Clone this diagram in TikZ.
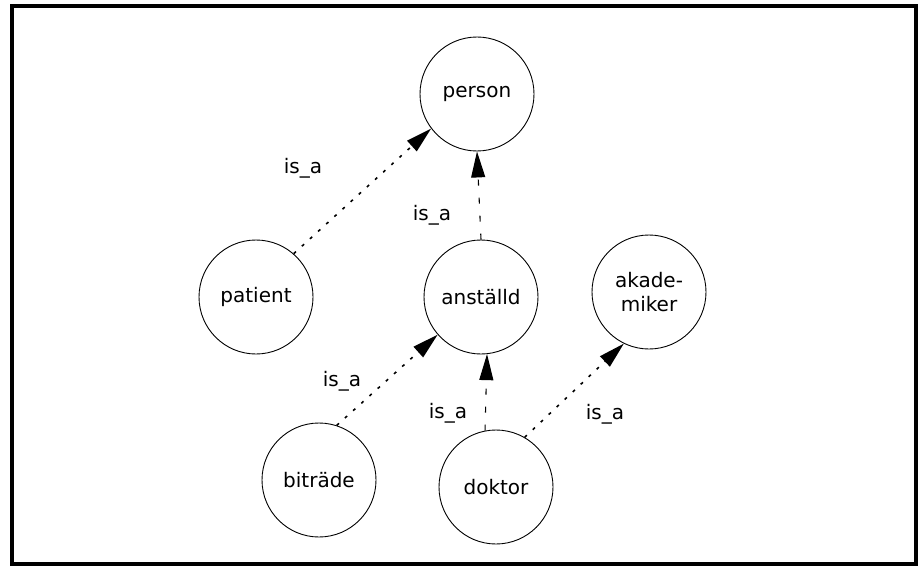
\documentclass[tikz,border=0pt]{standalone}
\usepackage{fontspec}
\setmainfont{DejaVu Sans}
\usepackage{tikz}
\usetikzlibrary{arrows.meta}

\tikzset{
  klass/.style={draw, circle, minimum size=114pt, inner sep=0pt, line width=0.9pt,
    font=\fontsize{20}{24}\selectfont, align=center},
  isa/.style={line width=1.6pt, dash pattern=on 3pt off 8pt,
    -{Triangle[length=26pt,width=14pt]}},
  isaline/.style={line width=1.1pt, dash pattern=on 6pt off 12pt,
    -{Triangle[length=26pt,width=14pt]}},
  rel/.style={font=\fontsize{20}{24}\selectfont}
}

\begin{document}
\begin{tikzpicture}[x=1pt,y=-1pt]
\useasboundingbox (0,0) rectangle (920,567);
\draw[line width=4pt] (12,6) rectangle (916,564);

\node[klass] (person) at (477,94) {person};
\node[klass] (patient) at (256,297) {patient};
\node[klass] (anstalld) at (481,297) {anställd};
\node[klass] (akademiker) at (649,292) {akade-\\miker};
\node[klass] (bitrade) at (319,480) {biträde};
\node[klass] (doktor) at (496,487) {doktor};

% is_a arrows
\draw[isa] (patient.49) -- (person.217);
\draw[isaline] (anstalld.north) -- (person.south);
\draw[isa] (bitrade.72) -- (anstalld.221);
\draw[isaline] (doktor.101) -- (anstalld.-84);
\draw[isa] (doktor.60) -- (akademiker.244);

\node[rel] (l1) at (303,168) {is\_a};
\node[rel] (l2) at (432,215) {is\_a};
\node[rel] (l3) at (342,381) {is\_a};
\node[rel] (l4) at (448,413) {is\_a};
\node[rel] (l5) at (605,414) {is\_a};
\end{tikzpicture}
\end{document}
